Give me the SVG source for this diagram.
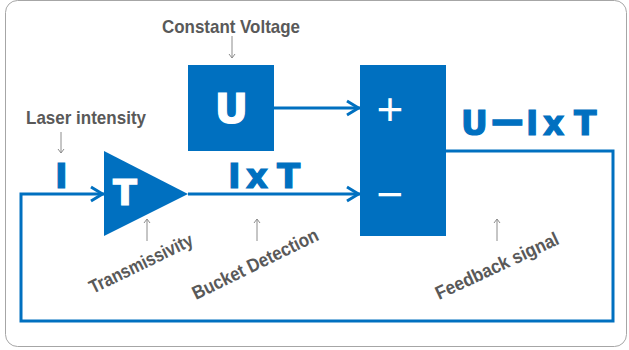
<svg xmlns="http://www.w3.org/2000/svg" width="629" height="350" viewBox="0 0 629 350">
<style>
.blue{fill:#0070C0}
.big{font-family:"DejaVu Sans","Liberation Sans",sans-serif;font-weight:bold}
.wt{fill:#fff;stroke:#fff;stroke-width:1.2}
.bt{fill:#0070C0;stroke:#0070C0;stroke-width:1.2}
.lbl{font-family:"Liberation Sans",Arial,sans-serif;font-weight:bold;font-size:19px;fill:#595959}
.sign{font-family:"Liberation Sans",Arial,sans-serif;font-size:46px;fill:#fff;text-anchor:middle}
.wire{fill:none;stroke:#0070C0;stroke-width:3}
.thin{fill:none;stroke:#8c8c8c;stroke-width:1}
</style>
<defs>
<marker id="ah" viewBox="-16 -10 20 20" refX="0" refY="0" markerWidth="20" markerHeight="20" orient="auto" markerUnits="userSpaceOnUse">
<path d="M-13,-7 L-1.5,0 L-13,7" fill="none" stroke="#0070C0" stroke-width="3"/>
</marker>
<marker id="sh" viewBox="-6 -5 8 10" refX="0" refY="0" markerWidth="8" markerHeight="10" orient="auto" markerUnits="userSpaceOnUse">
<path d="M-4,-3 L0,0 L-4,3" fill="none" stroke="#8c8c8c" stroke-width="1"/>
</marker>
</defs>
<rect x="5.5" y="0.5" width="621" height="346" rx="12" fill="#fff" stroke="#a6a6a6" stroke-width="1"/>
<g id="connectors">
<path class="wire" d="M274,108 H360" marker-end="url(#ah)"/>
<path class="wire" d="M188,194 H360" marker-end="url(#ah)"/>
<path class="wire" d="M446,151 H613 V321 H21 V194 H104" marker-end="url(#ah)"/>
<path class="thin" d="M232,36 V58" marker-end="url(#sh)"/>
<path class="thin" d="M61,132 V153" marker-end="url(#sh)"/>
<path class="thin" d="M147,241 V219" marker-end="url(#sh)"/>
<path class="thin" d="M257,241 V219" marker-end="url(#sh)"/>
<path class="thin" d="M497,241 V219" marker-end="url(#sh)"/>
</g>
<g id="node-U">
<rect class="blue" x="188" y="65" width="86" height="86"/>
<text class="big wt" x="231.5" y="123" font-size="41" text-anchor="middle">U</text>
</g>
<g id="node-T">
<polygon class="blue" points="104,151 188,194 104,236"/>
<text class="big wt" x="125" y="205" font-size="35" text-anchor="middle">T</text>
</g>
<g id="node-sum">
<rect class="blue" x="360" y="65" width="86" height="171"/>
<text class="sign" x="390" y="124.5">+</text>
<text class="sign" x="390" y="209.5">−</text>
</g>
<g id="label-I">
<text class="big bt" x="55" y="188" font-size="34">I</text>
</g>
<g id="label-IxT">
<text class="big bt" x="228 246 277" y="188" font-size="34">IxT</text>
</g>
<g id="label-out">
<text class="big bt" x="461 488 526 543 574" y="135" font-size="33">U<tspan font-size="46" dy="2">−</tspan><tspan dy="-2">IxT</tspan></text>
</g>
<g id="texts">
<text class="lbl" x="162" y="33" font-size="20" textLength="138" lengthAdjust="spacingAndGlyphs">Constant Voltage</text>
<text class="lbl" x="26" y="124" font-size="20" textLength="120" lengthAdjust="spacingAndGlyphs">Laser intensity</text>
<text class="lbl" transform="translate(93,294) rotate(-26)" textLength="113" lengthAdjust="spacingAndGlyphs">Transmissivity</text>
<text class="lbl" transform="translate(196,300) rotate(-26)" textLength="138" lengthAdjust="spacingAndGlyphs">Bucket Detection</text>
<text class="lbl" transform="translate(439,300) rotate(-25)" textLength="134" lengthAdjust="spacingAndGlyphs">Feedback signal</text>
</g>
</svg>
